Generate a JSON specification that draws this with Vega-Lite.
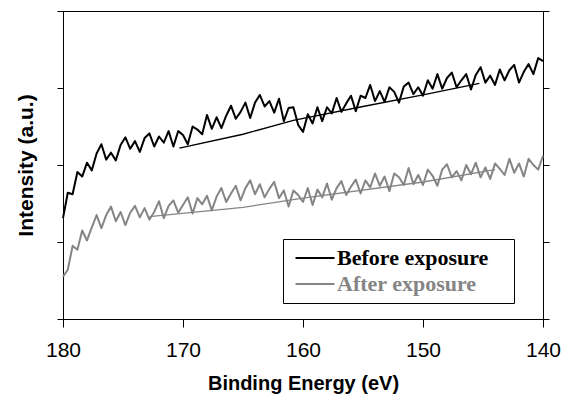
{
  "$schema": "https://vega.github.io/schema/vega-lite/v6.json",
  "width": 480,
  "height": 308,
  "autosize": "none",
  "padding": {"left": 63, "top": 11, "right": 23, "bottom": 89},
  "background": "white",
  "config": {
    "view": {"stroke": "black", "strokeWidth": 1},
    "axis": {"domainColor": "black", "tickColor": "black", "labelColor": "black", "titleColor": "black", "grid": false, "labelFont": "Liberation Sans", "titleFont": "Liberation Sans"}
  },
  "data": {
    "values": [
      {"e":180.0,"v":1.31,"s":"Before exposure","k":"raw"},{"e":179.6,"v":1.64,"s":"Before exposure","k":"raw"},{"e":179.2,"v":1.62,"s":"Before exposure","k":"raw"},{"e":178.8,"v":1.91,"s":"Before exposure","k":"raw"},{"e":178.4,"v":1.85,"s":"Before exposure","k":"raw"},{"e":178.0,"v":2.03,"s":"Before exposure","k":"raw"},{"e":177.6,"v":1.93,"s":"Before exposure","k":"raw"},{"e":177.2,"v":2.15,"s":"Before exposure","k":"raw"},{"e":176.8,"v":2.27,"s":"Before exposure","k":"raw"},{"e":176.4,"v":2.07,"s":"Before exposure","k":"raw"},
      {"e":176.0,"v":2.16,"s":"Before exposure","k":"raw"},{"e":175.6,"v":2.06,"s":"Before exposure","k":"raw"},{"e":175.2,"v":2.26,"s":"Before exposure","k":"raw"},{"e":174.8,"v":2.36,"s":"Before exposure","k":"raw"},{"e":174.4,"v":2.21,"s":"Before exposure","k":"raw"},{"e":174.0,"v":2.31,"s":"Before exposure","k":"raw"},{"e":173.6,"v":2.17,"s":"Before exposure","k":"raw"},{"e":173.2,"v":2.35,"s":"Before exposure","k":"raw"},{"e":172.8,"v":2.41,"s":"Before exposure","k":"raw"},{"e":172.4,"v":2.24,"s":"Before exposure","k":"raw"},
      {"e":172.0,"v":2.37,"s":"Before exposure","k":"raw"},{"e":171.6,"v":2.29,"s":"Before exposure","k":"raw"},{"e":171.2,"v":2.44,"s":"Before exposure","k":"raw"},{"e":170.8,"v":2.24,"s":"Before exposure","k":"raw"},{"e":170.4,"v":2.44,"s":"Before exposure","k":"raw"},{"e":170.0,"v":2.39,"s":"Before exposure","k":"raw"},{"e":169.6,"v":2.27,"s":"Before exposure","k":"raw"},{"e":169.2,"v":2.50,"s":"Before exposure","k":"raw"},{"e":168.8,"v":2.46,"s":"Before exposure","k":"raw"},{"e":168.4,"v":2.40,"s":"Before exposure","k":"raw"},
      {"e":168.0,"v":2.65,"s":"Before exposure","k":"raw"},{"e":167.6,"v":2.47,"s":"Before exposure","k":"raw"},{"e":167.2,"v":2.62,"s":"Before exposure","k":"raw"},{"e":166.8,"v":2.48,"s":"Before exposure","k":"raw"},{"e":166.4,"v":2.64,"s":"Before exposure","k":"raw"},{"e":166.0,"v":2.77,"s":"Before exposure","k":"raw"},{"e":165.6,"v":2.60,"s":"Before exposure","k":"raw"},{"e":165.2,"v":2.69,"s":"Before exposure","k":"raw"},{"e":164.8,"v":2.81,"s":"Before exposure","k":"raw"},{"e":164.4,"v":2.61,"s":"Before exposure","k":"raw"},
      {"e":164.0,"v":2.81,"s":"Before exposure","k":"raw"},{"e":163.6,"v":2.91,"s":"Before exposure","k":"raw"},{"e":163.2,"v":2.76,"s":"Before exposure","k":"raw"},{"e":162.8,"v":2.83,"s":"Before exposure","k":"raw"},{"e":162.4,"v":2.68,"s":"Before exposure","k":"raw"},{"e":162.0,"v":2.86,"s":"Before exposure","k":"raw"},{"e":161.6,"v":2.57,"s":"Before exposure","k":"raw"},{"e":161.2,"v":2.74,"s":"Before exposure","k":"raw"},{"e":160.8,"v":2.75,"s":"Before exposure","k":"raw"},{"e":160.4,"v":2.52,"s":"Before exposure","k":"raw"},
      {"e":160.0,"v":2.43,"s":"Before exposure","k":"raw"},{"e":159.6,"v":2.66,"s":"Before exposure","k":"raw"},{"e":159.2,"v":2.54,"s":"Before exposure","k":"raw"},{"e":158.8,"v":2.75,"s":"Before exposure","k":"raw"},{"e":158.4,"v":2.57,"s":"Before exposure","k":"raw"},{"e":158.0,"v":2.75,"s":"Before exposure","k":"raw"},{"e":157.6,"v":2.67,"s":"Before exposure","k":"raw"},{"e":157.2,"v":2.87,"s":"Before exposure","k":"raw"},{"e":156.8,"v":2.69,"s":"Before exposure","k":"raw"},{"e":156.4,"v":2.80,"s":"Before exposure","k":"raw"},
      {"e":156.0,"v":2.90,"s":"Before exposure","k":"raw"},{"e":155.6,"v":2.70,"s":"Before exposure","k":"raw"},{"e":155.2,"v":2.90,"s":"Before exposure","k":"raw"},{"e":154.8,"v":2.87,"s":"Before exposure","k":"raw"},{"e":154.4,"v":3.04,"s":"Before exposure","k":"raw"},{"e":154.0,"v":2.83,"s":"Before exposure","k":"raw"},{"e":153.6,"v":2.96,"s":"Before exposure","k":"raw"},{"e":153.2,"v":2.82,"s":"Before exposure","k":"raw"},{"e":152.8,"v":3.01,"s":"Before exposure","k":"raw"},{"e":152.4,"v":2.95,"s":"Before exposure","k":"raw"},
      {"e":152.0,"v":2.81,"s":"Before exposure","k":"raw"},{"e":151.6,"v":3.02,"s":"Before exposure","k":"raw"},{"e":151.2,"v":3.07,"s":"Before exposure","k":"raw"},{"e":150.8,"v":2.92,"s":"Before exposure","k":"raw"},{"e":150.4,"v":3.01,"s":"Before exposure","k":"raw"},{"e":150.0,"v":2.90,"s":"Before exposure","k":"raw"},{"e":149.6,"v":3.10,"s":"Before exposure","k":"raw"},{"e":149.2,"v":2.99,"s":"Before exposure","k":"raw"},{"e":148.8,"v":3.18,"s":"Before exposure","k":"raw"},{"e":148.4,"v":2.99,"s":"Before exposure","k":"raw"},
      {"e":148.0,"v":3.13,"s":"Before exposure","k":"raw"},{"e":147.6,"v":3.20,"s":"Before exposure","k":"raw"},{"e":147.2,"v":3.01,"s":"Before exposure","k":"raw"},{"e":146.8,"v":3.10,"s":"Before exposure","k":"raw"},{"e":146.4,"v":3.18,"s":"Before exposure","k":"raw"},{"e":146.0,"v":2.98,"s":"Before exposure","k":"raw"},{"e":145.6,"v":3.17,"s":"Before exposure","k":"raw"},{"e":145.2,"v":3.27,"s":"Before exposure","k":"raw"},{"e":144.8,"v":3.07,"s":"Before exposure","k":"raw"},{"e":144.4,"v":3.16,"s":"Before exposure","k":"raw"},
      {"e":144.0,"v":3.04,"s":"Before exposure","k":"raw"},{"e":143.6,"v":3.24,"s":"Before exposure","k":"raw"},{"e":143.2,"v":3.10,"s":"Before exposure","k":"raw"},{"e":142.8,"v":3.23,"s":"Before exposure","k":"raw"},{"e":142.4,"v":3.30,"s":"Before exposure","k":"raw"},{"e":142.0,"v":3.07,"s":"Before exposure","k":"raw"},{"e":141.6,"v":3.21,"s":"Before exposure","k":"raw"},{"e":141.2,"v":3.31,"s":"Before exposure","k":"raw"},{"e":140.8,"v":3.18,"s":"Before exposure","k":"raw"},{"e":140.4,"v":3.39,"s":"Before exposure","k":"raw"},
      {"e":140.0,"v":3.35,"s":"Before exposure","k":"raw"},
      {"e":180.0,"v":0.55,"s":"After exposure","k":"raw"},{"e":179.6,"v":0.64,"s":"After exposure","k":"raw"},{"e":179.2,"v":0.95,"s":"After exposure","k":"raw"},{"e":178.8,"v":0.90,"s":"After exposure","k":"raw"},{"e":178.4,"v":1.15,"s":"After exposure","k":"raw"},{"e":178.0,"v":1.02,"s":"After exposure","k":"raw"},{"e":177.6,"v":1.19,"s":"After exposure","k":"raw"},{"e":177.2,"v":1.35,"s":"After exposure","k":"raw"},{"e":176.8,"v":1.18,"s":"After exposure","k":"raw"},{"e":176.4,"v":1.35,"s":"After exposure","k":"raw"},
      {"e":176.0,"v":1.46,"s":"After exposure","k":"raw"},{"e":175.6,"v":1.27,"s":"After exposure","k":"raw"},{"e":175.2,"v":1.39,"s":"After exposure","k":"raw"},{"e":174.8,"v":1.22,"s":"After exposure","k":"raw"},{"e":174.4,"v":1.38,"s":"After exposure","k":"raw"},{"e":174.0,"v":1.47,"s":"After exposure","k":"raw"},{"e":173.6,"v":1.32,"s":"After exposure","k":"raw"},{"e":173.2,"v":1.44,"s":"After exposure","k":"raw"},{"e":172.8,"v":1.29,"s":"After exposure","k":"raw"},{"e":172.4,"v":1.39,"s":"After exposure","k":"raw"},
      {"e":172.0,"v":1.53,"s":"After exposure","k":"raw"},{"e":171.6,"v":1.31,"s":"After exposure","k":"raw"},{"e":171.2,"v":1.47,"s":"After exposure","k":"raw"},{"e":170.8,"v":1.54,"s":"After exposure","k":"raw"},{"e":170.4,"v":1.38,"s":"After exposure","k":"raw"},{"e":170.0,"v":1.48,"s":"After exposure","k":"raw"},{"e":169.6,"v":1.58,"s":"After exposure","k":"raw"},{"e":169.2,"v":1.37,"s":"After exposure","k":"raw"},{"e":168.8,"v":1.57,"s":"After exposure","k":"raw"},{"e":168.4,"v":1.49,"s":"After exposure","k":"raw"},
      {"e":168.0,"v":1.60,"s":"After exposure","k":"raw"},{"e":167.6,"v":1.41,"s":"After exposure","k":"raw"},{"e":167.2,"v":1.59,"s":"After exposure","k":"raw"},{"e":166.8,"v":1.70,"s":"After exposure","k":"raw"},{"e":166.4,"v":1.52,"s":"After exposure","k":"raw"},{"e":166.0,"v":1.63,"s":"After exposure","k":"raw"},{"e":165.6,"v":1.73,"s":"After exposure","k":"raw"},{"e":165.2,"v":1.54,"s":"After exposure","k":"raw"},{"e":164.8,"v":1.70,"s":"After exposure","k":"raw"},{"e":164.4,"v":1.80,"s":"After exposure","k":"raw"},
      {"e":164.0,"v":1.62,"s":"After exposure","k":"raw"},{"e":163.6,"v":1.75,"s":"After exposure","k":"raw"},{"e":163.2,"v":1.58,"s":"After exposure","k":"raw"},{"e":162.8,"v":1.69,"s":"After exposure","k":"raw"},{"e":162.4,"v":1.78,"s":"After exposure","k":"raw"},{"e":162.0,"v":1.57,"s":"After exposure","k":"raw"},{"e":161.6,"v":1.67,"s":"After exposure","k":"raw"},{"e":161.2,"v":1.46,"s":"After exposure","k":"raw"},{"e":160.8,"v":1.67,"s":"After exposure","k":"raw"},{"e":160.4,"v":1.61,"s":"After exposure","k":"raw"},
      {"e":160.0,"v":1.52,"s":"After exposure","k":"raw"},{"e":159.6,"v":1.70,"s":"After exposure","k":"raw"},{"e":159.2,"v":1.48,"s":"After exposure","k":"raw"},{"e":158.8,"v":1.68,"s":"After exposure","k":"raw"},{"e":158.4,"v":1.58,"s":"After exposure","k":"raw"},{"e":158.0,"v":1.76,"s":"After exposure","k":"raw"},{"e":157.6,"v":1.55,"s":"After exposure","k":"raw"},{"e":157.2,"v":1.70,"s":"After exposure","k":"raw"},{"e":156.8,"v":1.79,"s":"After exposure","k":"raw"},{"e":156.4,"v":1.61,"s":"After exposure","k":"raw"},
      {"e":156.0,"v":1.72,"s":"After exposure","k":"raw"},{"e":155.6,"v":1.81,"s":"After exposure","k":"raw"},{"e":155.2,"v":1.63,"s":"After exposure","k":"raw"},{"e":154.8,"v":1.80,"s":"After exposure","k":"raw"},{"e":154.4,"v":1.71,"s":"After exposure","k":"raw"},{"e":154.0,"v":1.89,"s":"After exposure","k":"raw"},{"e":153.6,"v":1.73,"s":"After exposure","k":"raw"},{"e":153.2,"v":1.85,"s":"After exposure","k":"raw"},{"e":152.8,"v":1.66,"s":"After exposure","k":"raw"},{"e":152.4,"v":1.89,"s":"After exposure","k":"raw"},
      {"e":152.0,"v":1.84,"s":"After exposure","k":"raw"},{"e":151.6,"v":1.74,"s":"After exposure","k":"raw"},{"e":151.2,"v":1.96,"s":"After exposure","k":"raw"},{"e":150.8,"v":1.75,"s":"After exposure","k":"raw"},{"e":150.4,"v":1.87,"s":"After exposure","k":"raw"},{"e":150.0,"v":1.74,"s":"After exposure","k":"raw"},{"e":149.6,"v":1.94,"s":"After exposure","k":"raw"},{"e":149.2,"v":1.86,"s":"After exposure","k":"raw"},{"e":148.8,"v":1.73,"s":"After exposure","k":"raw"},{"e":148.4,"v":1.94,"s":"After exposure","k":"raw"},
      {"e":148.0,"v":2.01,"s":"After exposure","k":"raw"},{"e":147.6,"v":1.84,"s":"After exposure","k":"raw"},{"e":147.2,"v":1.92,"s":"After exposure","k":"raw"},{"e":146.8,"v":1.80,"s":"After exposure","k":"raw"},{"e":146.4,"v":2.00,"s":"After exposure","k":"raw"},{"e":146.0,"v":1.88,"s":"After exposure","k":"raw"},{"e":145.6,"v":2.03,"s":"After exposure","k":"raw"},{"e":145.2,"v":1.84,"s":"After exposure","k":"raw"},{"e":144.8,"v":1.97,"s":"After exposure","k":"raw"},{"e":144.4,"v":1.82,"s":"After exposure","k":"raw"},
      {"e":144.0,"v":2.02,"s":"After exposure","k":"raw"},{"e":143.6,"v":1.95,"s":"After exposure","k":"raw"},{"e":143.2,"v":1.87,"s":"After exposure","k":"raw"},{"e":142.8,"v":2.08,"s":"After exposure","k":"raw"},{"e":142.4,"v":1.90,"s":"After exposure","k":"raw"},{"e":142.0,"v":2.02,"s":"After exposure","k":"raw"},{"e":141.6,"v":1.85,"s":"After exposure","k":"raw"},{"e":141.2,"v":2.08,"s":"After exposure","k":"raw"},{"e":140.8,"v":2.00,"s":"After exposure","k":"raw"},{"e":140.4,"v":1.94,"s":"After exposure","k":"raw"},
      {"e":140.0,"v":2.12,"s":"After exposure","k":"raw"},
      {"e":170.3,"v":2.22,"s":"Before exposure","k":"bg"},{"e":165.0,"v":2.40,"s":"Before exposure","k":"bg"},{"e":160.8,"v":2.58,"s":"Before exposure","k":"bg"},{"e":155.0,"v":2.76,"s":"Before exposure","k":"bg"},{"e":150.0,"v":2.91,"s":"Before exposure","k":"bg"},{"e":145.3,"v":3.06,"s":"Before exposure","k":"bg"},
      {"e":172.8,"v":1.33,"s":"After exposure","k":"bg"},{"e":165.0,"v":1.45,"s":"After exposure","k":"bg"},{"e":160.0,"v":1.57,"s":"After exposure","k":"bg"},{"e":150.0,"v":1.78,"s":"After exposure","k":"bg"},{"e":144.0,"v":1.94,"s":"After exposure","k":"bg"}
    ]
  },
  "encoding": {
    "x": {
      "field": "e", "type": "quantitative",
      "scale": {"domain": [140, 180], "reverse": true, "nice": false, "zero": false},
      "axis": {"values": [180, 170, 160, 150, 140], "tickSize": 8, "labelFontSize": 21, "labelPadding": 12, "title": "Binding Energy (eV)", "titleFontSize": 20, "titleFontWeight": "bold", "titlePadding": 13, "labelFlush": false}
    },
    "color": {
      "field": "s", "type": "nominal",
      "scale": {"domain": ["Before exposure", "After exposure"], "range": ["#000000", "#858585"]},
      "legend": {
        "title": "\u00a0", "titleOrient": "right", "titlePadding": 18, "titleFontSize": 22,
        "orient": "none", "legendX": 220, "legendY": 228,
        "strokeColor": "black", "fillColor": "white", "padding": 8,
        "symbolType": "M-3,0H3", "symbolSize": 169, "symbolStrokeWidth": 2, "symbolOffset": 13,
        "labelFont": "Liberation Serif", "labelFontSize": 22, "labelFontWeight": "bold", "labelOffset": 11, "rowPadding": 4, "labelLimit": 400,
        "encode": {"labels": {"update": {
          "fill": {"signal": "datum.value === 'After exposure' ? '#858585' : '#000000'"}
        }}}
      }
    },
    "order": {"field": "e", "sort": "descending"}
  },
  "layer": [
    {
      "transform": [{"filter": "datum.k === 'raw'"}],
      "mark": {"type": "line", "strokeJoin": "round", "strokeWidth": 2},
      "encoding": {
        "y": {
          "field": "v", "type": "quantitative",
          "scale": {"domain": [0, 4], "nice": false},
          "axis": {"orient": "left", "values": [0, 1, 2, 3, 4], "labels": false, "tickSize": 6, "title": "Intensity (a.u.)", "titleFontSize": 21, "titleFontWeight": "bold", "titlePadding": 20}
        }
      }
    },
    {
      "transform": [{"filter": "datum.k === 'bg'"}],
      "mark": {"type": "line", "strokeWidth": 1.4},
      "encoding": {
        "y": {
          "field": "v", "type": "quantitative",
          "axis": {"orient": "right", "values": [0, 1, 2, 3, 4], "labels": false, "tickSize": 6, "title": null}
        }
      }
    }
  ],
  "resolve": {"axis": {"y": "independent"}}
}
